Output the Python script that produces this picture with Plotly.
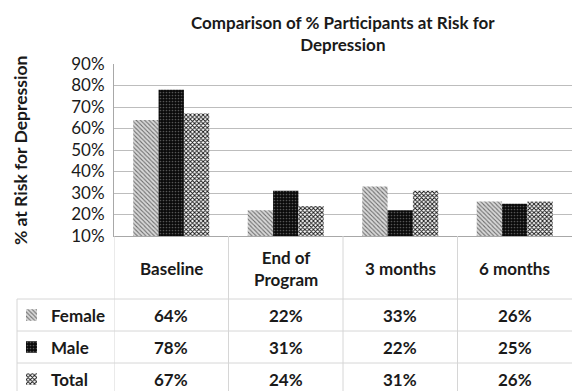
import plotly.graph_objects as go

categories = ["Baseline", "End of Program", "3 months", "6 months"]
header_labels = ["Baseline", "End of<br>Program", "3 months", "6 months"]
series_names = ["Female", "Male", "Total"]
female = [64, 22, 33, 26]
male = [78, 31, 22, 25]
total = [67, 24, 31, 26]
series_values = [female, male, total]
y_ticks = [10, 20, 30, 40, 50, 60, 70, 80, 90]
y_tick_labels = [f"{v}%" for v in y_ticks]

W, H = 572, 391
FONT = "Lato"
TXT = "#1a1a1a"
patterns = [
    dict(shape="\\", fgcolor="#6e6e6e", bgcolor="#d8d8d8", size=3, solidity=0.35),
    dict(shape=".", fgcolor="#555555", bgcolor="#0a0a0a", size=3, solidity=0.25),
    dict(shape="x", fgcolor="#111111", bgcolor="#ffffff", size=3, solidity=0.5),
]

def px_x(x):
    return x / W

def px_y(y):
    return 1 - y / H

fig = go.Figure()
for name, vals, pat in zip(series_names, series_values, patterns):
    fig.add_trace(go.Bar(
        x=categories, y=vals, name=name, showlegend=False,
        marker=dict(color=pat["bgcolor"], pattern=pat, line=dict(width=0)),
        xaxis="x", yaxis="y",
    ))
    # legend key icons in the data table
    fig.add_trace(go.Bar(
        x=[1], y=[series_names.index(name)], orientation="h", showlegend=False,
        width=0.36,
        marker=dict(color=pat["bgcolor"], pattern=pat, line=dict(width=0)),
        xaxis="x2", yaxis="y2", hoverinfo="skip",
    ))

plot_top, plot_bot, plot_left = 64, 236, 114
fig.update_layout(
    template="none",
    width=W, height=H,
    margin=dict(l=0, r=0, t=0, b=0, pad=0),
    paper_bgcolor="white", plot_bgcolor="white",
    barmode="group", bargap=0.336, bargroupgap=0,
    font=dict(family=FONT, color=TXT),
    xaxis=dict(
        domain=[px_x(plot_left), 1], showticklabels=False, showgrid=False,
        showline=True, linecolor="#a8a8a8", linewidth=1, zeroline=False,
        range=[-0.5, 3.5], automargin=False, ticks="",
    ),
    yaxis=dict(
        domain=[px_y(plot_bot), px_y(plot_top)], range=[10, 90],
        tickvals=y_ticks, ticktext=y_tick_labels, showgrid=True,
        gridcolor="#bdbdbd", gridwidth=1, showline=True, linecolor="#a8a8a8",
        zeroline=False, tickfont=dict(family=FONT, size=17, color=TXT),
        ticks="", ticklabelstandoff=5, automargin=False,
    ),
    xaxis2=dict(domain=[px_x(26), px_x(37)], range=[0, 1], visible=False,
                automargin=False),
    yaxis2=dict(domain=[0, px_y(299)], range=[2.375, -0.5], visible=False,
                automargin=False),
)

# chart title
fig.add_annotation(
    text="<b>Comparison of % Participants at Risk for<br>Depression</b>",
    xref="paper", yref="paper", x=px_x(343), y=px_y(33),
    xanchor="center", yanchor="middle", showarrow=False,
    font=dict(family=FONT, size=17, color=TXT),
)

# y-axis title
fig.add_annotation(
    text="<b>% at Risk for Depression</b>", textangle=-90,
    xref="paper", yref="paper", x=px_x(20), y=px_y(151),
    xanchor="center", yanchor="middle", showarrow=False,
    font=dict(family=FONT, size=17.5, color=TXT),
)

line_color = "#d6d6d6"
# table header labels
for cat, lab in zip(categories, header_labels):
    fig.add_annotation(
        text=f"<b>{lab}</b>", xref="x", yref="paper", x=cat, y=px_y(268),
        xanchor="center", yanchor="middle", showarrow=False,
        font=dict(family=FONT, size=17, color=TXT),
    )

row_tops = [299, 331, 363]
row_h = 32
for i, (name, vals) in enumerate(zip(series_names, series_values)):
    yc = row_tops[i] + row_h / 2
    fig.add_annotation(
        text=f"<b>{name}</b>", xref="paper", yref="paper", x=px_x(49), y=px_y(yc),
        xanchor="left", yanchor="middle", showarrow=False,
        font=dict(family=FONT, size=17, color=TXT),
    )
    for cat, v in zip(categories, vals):
        fig.add_annotation(
            text=f"<b>{v}%</b>", xref="x", yref="paper", x=cat, y=px_y(yc),
            xanchor="center", yanchor="middle", showarrow=False,
            font=dict(family=FONT, size=17, color=TXT),
        )
    # horizontal row separator
    fig.add_shape(type="line", xref="paper", yref="paper",
                  x0=px_x(17), x1=1, y0=px_y(row_tops[i]), y1=px_y(row_tops[i]),
                  line=dict(color=line_color, width=1))

# vertical table separators at category boundaries
for b in [-0.5, 0.5, 1.5, 2.5]:
    fig.add_shape(type="line", xref="x", yref="paper", x0=b, x1=b,
                  y0=0, y1=px_y(plot_bot), line=dict(color=line_color, width=1))
fig.add_shape(type="line", xref="paper", yref="paper", x0=px_x(17), x1=px_x(17),
              y0=0, y1=px_y(299), line=dict(color=line_color, width=1))

fig.write_html(
    "out.html",
    config={"displayModeBar": False},
    post_script="document.body.style.margin='0';document.body.style.overflow='hidden';",
)
